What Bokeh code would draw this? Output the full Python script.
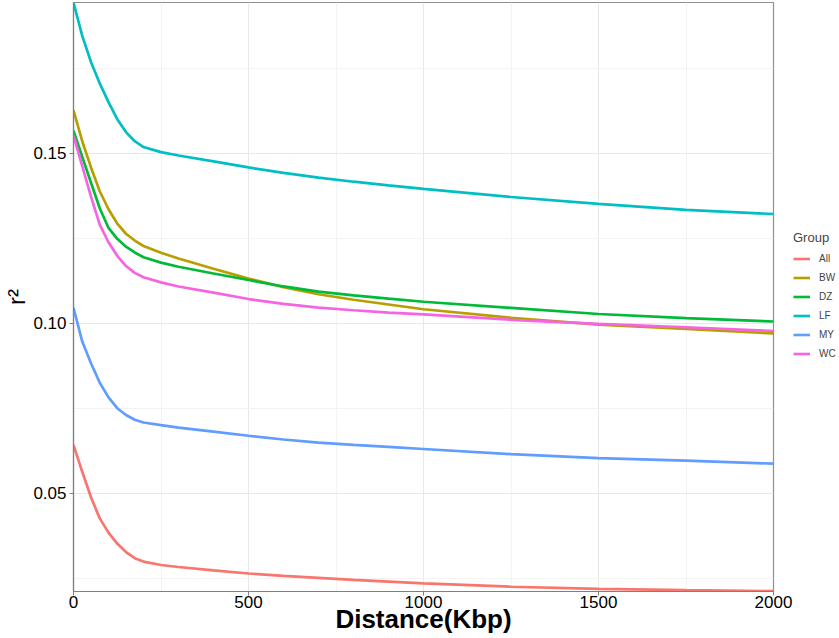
from bokeh.plotting import figure
from bokeh.layouts import row
from bokeh.models import Range1d, FixedTicker, Legend, LegendItem, PrintfTickFormatter, ColumnDataSource
from bokeh.embed import file_html
from bokeh.resources import INLINE

# ---- data ----
distance = [0, 25, 50, 75, 100, 125, 150, 175, 200, 250, 300, 400, 500,
            600, 700, 800, 900, 1000, 1250, 1500, 1750, 2000]

r2_all = [0.0642, 0.0563, 0.0488, 0.0426, 0.0384, 0.0352, 0.0327, 0.0309, 0.0299, 0.0289, 0.0283,
          0.0273, 0.0264, 0.0257, 0.0251, 0.0245, 0.0240, 0.0235, 0.0225, 0.0219, 0.0215, 0.0212]
r2_bw = [0.1626, 0.1535, 0.1458, 0.1388, 0.1335, 0.1293, 0.1263, 0.1243, 0.1227, 0.1207, 0.1190,
         0.1160, 0.1131, 0.1106, 0.1085, 0.1069, 0.1055, 0.1041, 0.1016, 0.0996, 0.0983, 0.0970]
r2_dz = [0.1566, 0.1489, 0.1413, 0.1338, 0.1280, 0.1248, 0.1225, 0.1208, 0.1194, 0.1178, 0.1166,
         0.1146, 0.1127, 0.1108, 0.1093, 0.1082, 0.1072, 0.1063, 0.1045, 0.1027, 0.1015, 0.1005]
r2_lf = [0.1943, 0.1845, 0.1768, 0.1705, 0.1650, 0.1600, 0.1562, 0.1535, 0.1518, 0.1503, 0.1493,
         0.1476, 0.1458, 0.1442, 0.1428, 0.1416, 0.1405, 0.1395, 0.1371, 0.1351, 0.1333, 0.1321]
r2_my = [0.1045, 0.0946, 0.0882, 0.0825, 0.0782, 0.0750, 0.0730, 0.0716, 0.0708, 0.0700, 0.0693,
         0.0681, 0.0669, 0.0658, 0.0649, 0.0642, 0.0636, 0.0630, 0.0615, 0.0603, 0.0596, 0.0587]
r2_wc = [0.1552, 0.1462, 0.1372, 0.1290, 0.1238, 0.1198, 0.1168, 0.1148, 0.1135, 0.1120, 0.1108,
         0.1090, 0.1071, 0.1057, 0.1046, 0.1038, 0.1031, 0.1026, 0.1010, 0.0998, 0.0988, 0.0977]

groups = ["All", "BW", "DZ", "LF", "MY", "WC"]
series = [r2_all, r2_bw, r2_dz, r2_lf, r2_my, r2_wc]
colors = ["#F8766D", "#B79F00", "#00BA38", "#00BFC4", "#619CFF", "#F564E3"]

x_major_ticks = [0, 500, 1000, 1500, 2000]
x_minor_ticks = [250, 750, 1250, 1750]
y_major_ticks = [0.05, 0.10, 0.15]
y_minor_ticks = [0.025, 0.075, 0.125, 0.175]

x_title = "Distance(Kbp)"
y_title = "r\u00b2"
legend_title = "Group"

FONT = "Liberation Sans"

p = figure(width=793, height=638, output_backend="svg", toolbar_location=None,
           x_range=Range1d(0, 2000), y_range=Range1d(0.0211, 0.1943),
           min_border_top=2, min_border_left=73, min_border_right=20, min_border_bottom=47)

p.background_fill_color = "white"
p.border_fill_color = "white"
p.outline_line_color = "#8f8f8f"
p.outline_line_width = 1.2

p.xaxis.ticker = FixedTicker(ticks=x_major_ticks, minor_ticks=x_minor_ticks)
p.yaxis.ticker = FixedTicker(ticks=y_major_ticks, minor_ticks=y_minor_ticks)
p.yaxis.formatter = PrintfTickFormatter(format="%.2f")

for g in (p.xgrid, p.ygrid):
    g.grid_line_color = "#e8e8e8"
    g.grid_line_width = 1
    g.minor_grid_line_color = "#f3f3f3"
    g.minor_grid_line_width = 1

for ax in (p.xaxis, p.yaxis):
    ax.axis_line_color = "#7f7f7f"
    ax.axis_line_width = 1.2
    ax.major_tick_line_color = "#7f7f7f"
    ax.major_tick_out = 4
    ax.major_tick_in = 0
    ax.minor_tick_out = 0
    ax.minor_tick_in = 0
    ax.major_label_text_font = FONT
    ax.major_label_text_font_size = "17px"
    ax.major_label_text_color = "black"
    ax.axis_label_text_font = FONT
    ax.axis_label_text_color = "black"

p.xaxis.major_label_standoff = 0
p.xaxis.axis_label = x_title
p.xaxis.axis_label_text_font_size = "26px"
p.xaxis.axis_label_text_font_style = "bold"
p.xaxis.axis_label_standoff = -7

p.yaxis.major_label_standoff = 3
p.yaxis.axis_label = y_title
p.yaxis.axis_label_text_font_size = "24px"
p.yaxis.axis_label_text_font_style = "normal"
p.yaxis.axis_label_standoff = 0

sources = []
for name, vals, col in zip(groups, series, colors):
    src = ColumnDataSource(dict(x=distance, y=vals))
    sources.append(src)
    p.line("x", "y", source=src, line_color=col, line_width=2.7)

# ---- legend panel (separate narrow figure to the right; its ranges keep the lines out of view) ----
pl = figure(width=46, height=638, output_backend="svg", toolbar_location=None,
            x_range=Range1d(-3, -2), y_range=Range1d(-3, -2),
            x_axis_type=None, y_axis_type=None,
            min_border_top=0, min_border_left=0, min_border_right=0, min_border_bottom=0)
pl.outline_line_color = None
pl.background_fill_color = "white"
pl.border_fill_color = "white"

items = []
for name, src, col in zip(groups, sources, colors):
    r = pl.line("x", "y", source=src, line_color=col, line_width=2.6)
    items.append(LegendItem(label=name, renderers=[r]))

legend = Legend(items=items, title=legend_title, location=(0, 228),
                title_text_font=FONT, title_text_font_size="13px", title_text_font_style="normal",
                title_standoff=4,
                label_text_font=FONT, label_text_font_size="10px", label_standoff=9,
                glyph_width=17, glyph_height=19, label_height=19, spacing=0,
                padding=0, margin=0, border_line_color=None, background_fill_alpha=0)
pl.add_layout(legend, "center")

layout = row(p, pl, spacing=0)

open("out.html", "w").write(file_html(layout, INLINE))
